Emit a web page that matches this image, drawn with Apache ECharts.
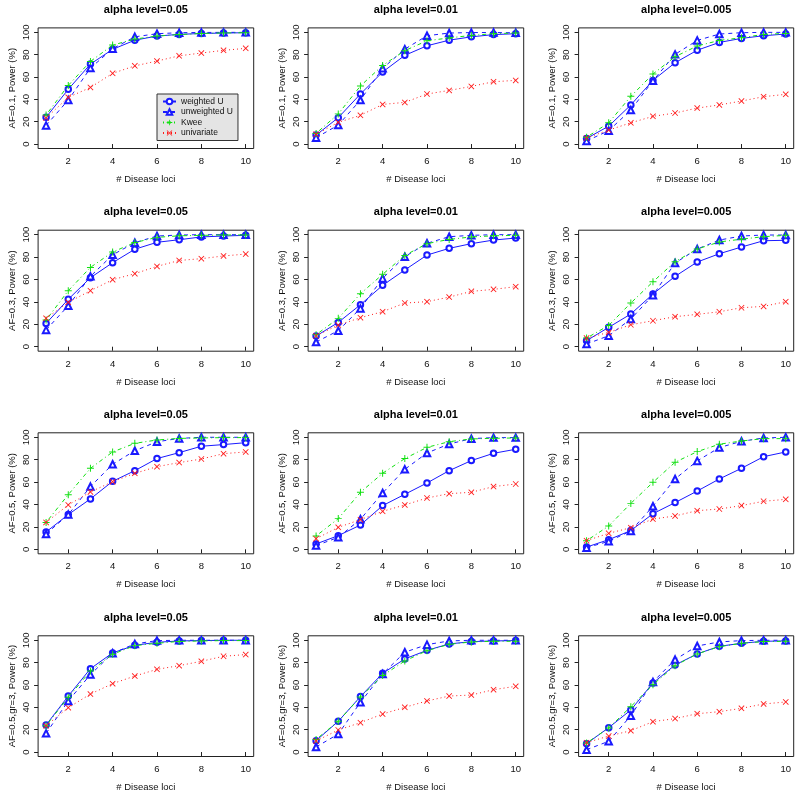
<!DOCTYPE html>
<html><head><meta charset="utf-8">
<script src="https://cdn.jsdelivr.net/npm/echarts@6/dist/echarts.min.js"></script>
<style>html,body{margin:0;padding:0;background:#fff}#c{width:800px;height:795px}</style>
</head><body><div id="c"></div><script>
// ---- data ----
const loci = [1, 2, 3, 4, 5, 6, 7, 8, 9, 10];
const xTicks = [2, 4, 6, 8, 10];
const yTicks = [0, 20, 40, 60, 80, 100];
const alphaTitles = ['alpha level=0.05', 'alpha level=0.01', 'alpha level=0.005'];
const rowLabels = ['AF=0.1, Power (%)', 'AF=0.3, Power (%)', 'AF=0.5, Power (%)', 'AF=0.5,gr=3, Power (%)'];
const seriesNames = ['weighted U', 'unweighted U', 'Kwee', 'univariate'];

// Row 1: AF=0.1
const af01_a05_weighted   = [24, 49, 71.6, 84.8, 93, 96.7, 98.2, 99, 99.4, 99.7];
const af01_a05_unweighted = [16.7, 39.4, 68, 85.4, 96, 98.8, 99.7, 99.9, 100, 100];
const af01_a05_kwee       = [26, 52.5, 74, 88.6, 94, 96.7, 98, 99, 99.5, 99.7];
const af01_a05_univariate = [23.3, 41.8, 50.7, 63.3, 70, 74.3, 79, 81.5, 83.9, 85.7];
const af01_a01_weighted   = [8, 23.6, 44.8, 64.5, 79.4, 88, 93, 96, 98, 98.8];
const af01_a01_unweighted = [5.7, 17, 39.4, 67.8, 85, 97, 99.4, 99.8, 99.9, 99.6];
const af01_a01_kwee       = [9.5, 27, 52, 70.4, 83.6, 92.5, 95, 97.3, 98.8, 99.4];
const af01_a01_univariate = [8.7, 19.4, 25.7, 35.5, 37.3, 44.8, 48, 51.6, 55.8, 57];
const af01_a005_weighted   = [5, 16, 35, 57, 72.8, 84, 91, 94.6, 97, 98.5];
const af01_a005_unweighted = [2.7, 12, 30.4, 56.7, 80.3, 92.8, 98.5, 99.7, 100, 100];
const af01_a005_kwee       = [6, 19, 42.7, 62.7, 78.2, 87.8, 92.8, 95.2, 98.2, 99];
const af01_a005_univariate = [5.4, 12.5, 19, 24.8, 27.8, 32.2, 35, 38.5, 42.4, 44.5];
// Row 2: AF=0.3
const af03_a05_weighted   = [20.8, 42.3, 61.6, 75, 87, 93.2, 95.5, 98, 98.8, 99.4];
const af03_a05_unweighted = [15, 36.6, 62.8, 82, 92.9, 98.8, 99.7, 100, 100, 100];
const af03_a05_kwee       = [23.8, 50, 70.8, 84.5, 93, 97.6, 99, 99.4, 99.7, 99.8];
const af03_a05_univariate = [25.3, 39.6, 50, 59.8, 65.2, 71.7, 77, 78.6, 81, 82.7];
const af03_a01_weighted   = [9.5, 21.7, 37.5, 54.8, 68.5, 81.8, 87.8, 92, 95.2, 97];
const af03_a01_unweighted = [4.2, 14.3, 34.2, 61, 80.4, 92.3, 98.2, 99.4, 100, 100];
const af03_a01_kwee       = [10.7, 25.3, 47.3, 64.6, 81.5, 92, 95.8, 98, 99, 99.4];
const af03_a01_univariate = [9.8, 19.3, 25.9, 31.3, 39, 40.2, 44.3, 49.4, 51.2, 53.6];
const af03_a005_weighted   = [5.4, 17.3, 29.2, 47, 62.8, 75.6, 83, 89, 94.6, 95];
const af03_a005_unweighted = [2.4, 9.8, 24.7, 46, 74.7, 87.2, 95.2, 98.8, 99.7, 99.7];
const af03_a005_kwee       = [7.7, 19, 39, 58, 75.9, 87.2, 93.5, 96, 98.2, 99.4];
const af03_a005_univariate = [7.7, 12.8, 19.6, 23.2, 26.8, 28.9, 31.2, 34.8, 36, 40.2];
// Row 3: AF=0.5
const af05_a05_weighted   = [15.5, 31, 45, 60.7, 70.2, 81, 86.3, 92, 93.5, 95.2];
const af05_a05_unweighted = [13.7, 31, 56, 75.9, 88, 96, 99, 100, 100, 100];
const af05_a05_kwee       = [24, 48.8, 72.3, 86.9, 94.6, 97.6, 99, 99.4, 99.7, 99.7];
const af05_a05_univariate = [24, 39.6, 51.2, 60.4, 67.8, 73.8, 77.4, 80.6, 85.4, 86.9];
const af05_a01_weighted   = [4.8, 12.2, 21.7, 39, 49.1, 59.2, 70.2, 79.2, 85.7, 89.3];
const af05_a01_unweighted = [3.3, 10.7, 26.8, 50.3, 71.4, 86, 94, 98.8, 99.7, 99.7];
const af05_a01_kwee       = [11.9, 27.4, 50.9, 67.9, 81, 91, 96.1, 98.5, 99.1, 99.4];
const af05_a01_univariate = [9.5, 19.6, 26.5, 33.9, 39.6, 45.8, 49.7, 50.9, 56, 58.3];
const af05_a005_weighted   = [2, 8.6, 16.7, 31.8, 41.7, 52, 62.8, 72.3, 82.7, 86.9];
const af05_a005_unweighted = [1.5, 7.1, 16.4, 38.4, 62.8, 78.9, 90.8, 96.4, 99.4, 100];
const af05_a005_kwee       = [7.7, 20.8, 41, 59.8, 77.7, 87.2, 93.8, 96.7, 98.8, 98.8];
const af05_a005_univariate = [7.7, 14.3, 19.3, 27, 29.8, 34.5, 36, 39, 42.9, 44.6];
// Row 4: AF=0.5, gr=3
const af05gr3_a05_weighted   = [24.2, 50.1, 74.6, 88.7, 95.5, 98.2, 99.4, 99.7, 100, 100];
const af05gr3_a05_unweighted = [16.7, 45.7, 69.3, 88.4, 96.7, 99.7, 100, 100, 100, 100];
const af05gr3_a05_kwee       = [23.6, 49, 72.5, 87.5, 95.2, 97.3, 99, 99.4, 99.7, 99.7];
const af05gr3_a05_univariate = [23.6, 39.7, 51.9, 61.2, 68, 74, 77.3, 81.2, 85.7, 87.2];
const af05gr3_a01_weighted   = [10.2, 27.5, 49.6, 70.4, 83.3, 91, 96.7, 98.8, 99.4, 99.7];
const af05gr3_a01_unweighted = [4.5, 16.1, 44.5, 69.9, 89.3, 96.1, 99.4, 100, 100, 100];
const af05gr3_a01_kwee       = [11.3, 27.5, 49.3, 68.4, 81.5, 90.7, 96.4, 98.5, 99.1, 99.1];
const af05gr3_a01_univariate = [9.9, 19.7, 26.3, 34, 40, 45.7, 50.1, 51, 55.8, 58.8];
const af05gr3_a005_weighted   = [7.5, 21.8, 37.6, 61.8, 77.9, 87.8, 94.6, 97.3, 99.1, 99.4];
const af05gr3_a005_unweighted = [2.1, 9.6, 32.5, 62.7, 82.7, 94.9, 98.5, 99.7, 100, 100];
const af05gr3_a005_kwee       = [8.1, 21.5, 40.6, 60.3, 77.3, 87.8, 94.3, 97.3, 98.8, 99.1];
const af05gr3_a005_univariate = [8.4, 14.3, 19.1, 27.2, 29.9, 34.3, 36.1, 39.1, 43, 44.8];

const panelData = [
  [[af01_a05_weighted, af01_a05_unweighted, af01_a05_kwee, af01_a05_univariate],
   [af01_a01_weighted, af01_a01_unweighted, af01_a01_kwee, af01_a01_univariate],
   [af01_a005_weighted, af01_a005_unweighted, af01_a005_kwee, af01_a005_univariate]],
  [[af03_a05_weighted, af03_a05_unweighted, af03_a05_kwee, af03_a05_univariate],
   [af03_a01_weighted, af03_a01_unweighted, af03_a01_kwee, af03_a01_univariate],
   [af03_a005_weighted, af03_a005_unweighted, af03_a005_kwee, af03_a005_univariate]],
  [[af05_a05_weighted, af05_a05_unweighted, af05_a05_kwee, af05_a05_univariate],
   [af05_a01_weighted, af05_a01_unweighted, af05_a01_kwee, af05_a01_univariate],
   [af05_a005_weighted, af05_a005_unweighted, af05_a005_kwee, af05_a005_univariate]],
  [[af05gr3_a05_weighted, af05gr3_a05_unweighted, af05gr3_a05_kwee, af05gr3_a05_univariate],
   [af05gr3_a01_weighted, af05gr3_a01_unweighted, af05gr3_a01_kwee, af05gr3_a01_univariate],
   [af05gr3_a005_weighted, af05gr3_a005_unweighted, af05gr3_a005_kwee, af05gr3_a005_univariate]]
];

// ---- layout / style ----
const colLeft = [38.1, 308.1, 578.6];
const colWidth = [215.6, 215.6, 215.1];
const rowTop = [27.9, 230.2, 432.8, 635.8];
const rowHeight = [120.6, 121, 121, 120.7];
const FONT = 'Liberation Sans, Arial, Helvetica, sans-serif';

const plusPath = 'path://M-0.14,-1H0.14V-0.14H1V0.14H0.14V1H-0.14V0.14H-1V-0.14H-0.14Z';
const d = 0.2;
const xPath = `path://M0,${-d}L${1-d},-1L1,${-1+d}L${d},0L1,${1-d}L${1-d},1L0,${d}L${-1+d},1L-1,${1-d}L${-d},0L-1,${-1+d}L${-1+d},-1Z`;

const styles = [
  { color: '#1a1aff', symbol: 'emptyCircle', symbolSize: 5.5, lineType: 'solid' },
  { color: '#1a1aff', symbol: 'emptyTriangle', symbolSize: 6.5, lineType: [4, 4] },
  { color: '#10e010', symbol: plusPath, symbolSize: 7, lineType: [1, 3, 4, 3] },
  { color: '#ff1a1a', symbol: xPath, symbolSize: 6, lineType: [1, 3] }
];

const grids = [], xAxes = [], yAxes = [], series = [], titles = [];
let idx = 0;
for (let r = 0; r < 4; r++) {
  for (let c = 0; c < 3; c++) {
    grids.push({ left: colLeft[c], top: rowTop[r], width: colWidth[c], height: rowHeight[r],
      show: true, borderColor: '#222', borderWidth: 1, backgroundColor: 'transparent' });
    xAxes.push({ type: 'value', gridIndex: idx, min: 0.64, max: 10.36,
      name: '# Disease loci', nameLocation: 'middle', nameGap: 26,
      nameTextStyle: { fontFamily: FONT, fontSize: 9.5, color: '#111' },
      axisLine: { show: false }, splitLine: { show: false },
      axisTick: { show: true, inside: false, length: 4, customValues: xTicks, lineStyle: { color: '#222' } },
      axisLabel: { customValues: xTicks, margin: 8, fontFamily: FONT, fontSize: 9.5, color: '#111' } });
    yAxes.push({ type: 'value', gridIndex: idx, min: -4, max: 104,
      name: rowLabels[r], nameLocation: 'middle', nameGap: 21, nameRotate: 90,
      nameTextStyle: { fontFamily: FONT, fontSize: 9.5, color: '#111' },
      axisLine: { show: false }, splitLine: { show: false },
      axisTick: { show: true, inside: false, length: 4, customValues: yTicks, lineStyle: { color: '#222' } },
      axisLabel: { customValues: yTicks, rotate: 90, margin: 7, fontFamily: FONT, fontSize: 9.5, color: '#111' } });
    titles.push({ text: alphaTitles[c], left: colLeft[c] + colWidth[c] / 2, top: rowTop[r] - 23.5,
      textAlign: 'center', padding: 0,
      textStyle: { fontFamily: FONT, fontSize: 11, fontWeight: 'bold', color: '#000' } });
    const vals = panelData[r][c];
    for (let s = 0; s < 4; s++) {
      const st = styles[s];
      series.push({ type: 'line', name: seriesNames[s], xAxisIndex: idx, yAxisIndex: idx,
        data: loci.map((x, i) => [x, vals[s][i]]),
        symbol: st.symbol, symbolSize: st.symbolSize, showAllSymbol: true,
        itemStyle: { color: st.color, borderWidth: 0.9 },
        lineStyle: { color: st.color, width: 1, type: st.lineType },
        emphasis: { disabled: true }, z: 2 + s });
    }
    idx++;
  }
}

const chart = echarts.init(document.getElementById('c'), null, { renderer: 'canvas' });
chart.setOption({
  animation: false,
  backgroundColor: '#fff',
  title: titles,
  grid: grids,
  xAxis: xAxes,
  yAxis: yAxes,
  legend: { show: true, data: seriesNames, left: 157, top: 94, orient: 'vertical',
    backgroundColor: '#e4e4e4', borderColor: '#333', borderWidth: 1, borderRadius: 0,
    padding: [3, 5, 3, 5], itemGap: 1.5, itemWidth: 13, itemHeight: 7, selectedMode: false,
    textStyle: { fontFamily: FONT, fontSize: 8.5, color: '#111' } },
  series: series
});
</script></body></html>
